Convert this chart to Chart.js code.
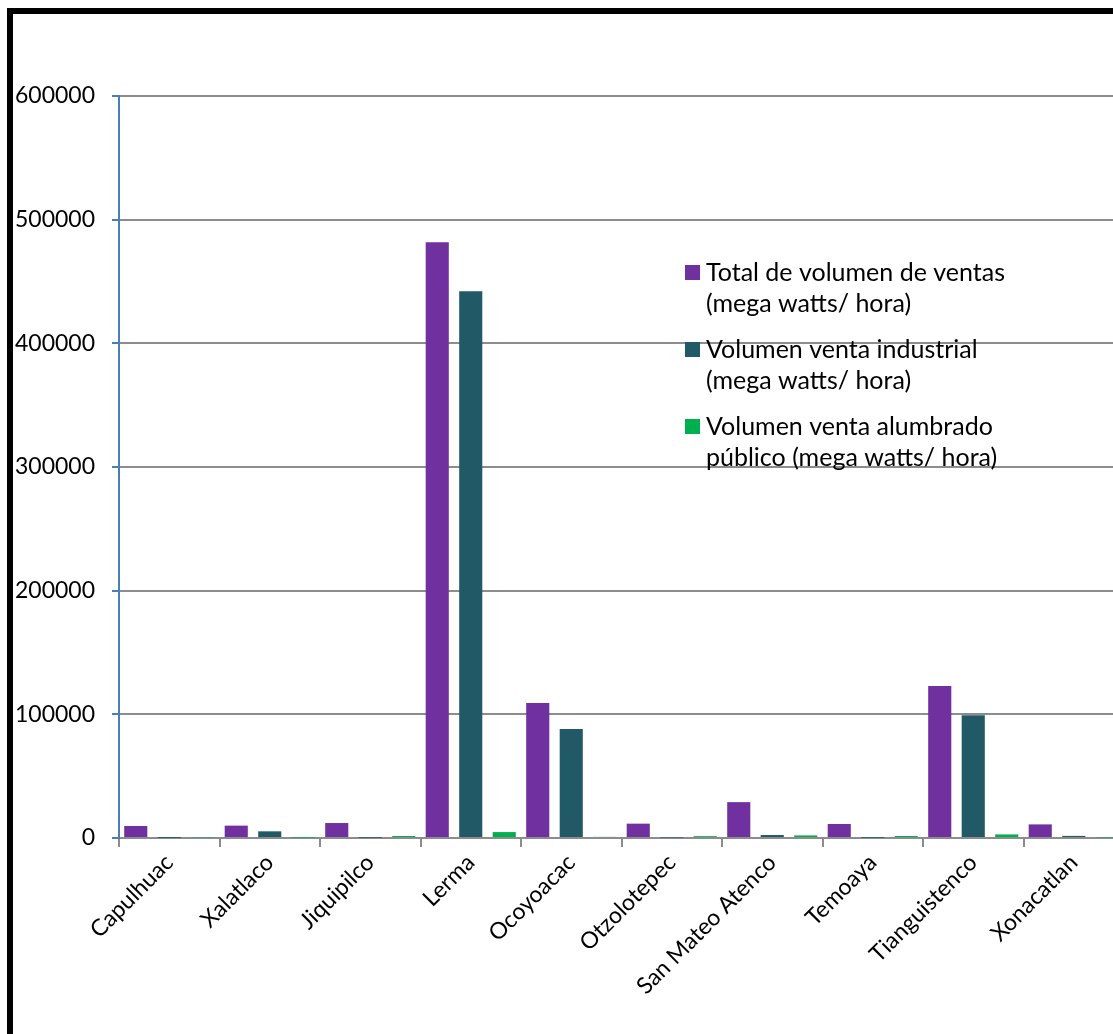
<!DOCTYPE html>
<html>
<head>
<meta charset="utf-8">
<script src="https://cdn.jsdelivr.net/npm/chart.js@4"></script>
<style>
  html, body { margin: 0; padding: 0; background: #fff; overflow: hidden; }
  #wrap { position: relative; width: 1113px; height: 1034px; overflow: hidden; }
  #frame {
    position: absolute; left: 7px; top: 8px; width: 1200px; height: 1100px;
    border-left: 6px solid #000; border-top: 6px solid #000; pointer-events: none;
  }
  canvas { position: absolute; left: 0; top: 0; }
</style>
</head>
<body>
<div id="wrap">
  <canvas id="ventasChart" width="1130" height="1034"></canvas>
  <div id="frame"></div>
</div>
<script>
const municipios = ["Capulhuac", "Xalatlaco", "Jiquipilco", "Lerma", "Ocoyoacac",
  "Otzolotepec", "San Mateo Atenco", "Temoaya", "Tianguistenco", "Xonacatlan"];

const totalVentas = [9700, 10000, 12100, 481800, 109100, 11600, 29000, 11300, 122900, 11000];
const ventaIndustrial = [100, 5400, 200, 442200, 88100, 400, 2400, 200, 99200, 1700];
const ventaAlumbrado = [600, 300, 1600, 4800, 900, 1500, 2100, 1600, 2900, 500];

const yTicks = [0, 100000, 200000, 300000, 400000, 500000, 600000];

const seriesLabels = [
  ["Total de volumen de ventas", "(mega watts/ hora)"],
  ["Volumen venta industrial", "(mega watts/ hora)"],
  ["Volumen venta alumbrado", "público (mega watts/ hora)"]
];
const seriesColors = ["#7030A0", "#215967", "#00B050"];

// legend drawn at the right side of the plot, labels wrap on two lines
const sideLegend = {
  id: "sideLegend",
  afterDraw(chart) {
    const ctx = chart.ctx;
    ctx.save();
    ctx.font = "25px Lato";
    ctx.textBaseline = "alphabetic";
    seriesLabels.forEach((lines, i) => {
      const y0 = 281 + i * 77;
      ctx.fillStyle = seriesColors[i];
      ctx.fillRect(685, y0 - 16, 15, 15);
      ctx.fillStyle = "#000";
      lines.forEach((line, j) => ctx.fillText(line, 706, y0 + j * 30.5));
    });
    ctx.restore();
  }
};

const ctx = document.getElementById("ventasChart").getContext("2d");

new Chart(ctx, {
  type: "bar",
  data: {
    labels: municipios,
    datasets: [
      { label: seriesLabels[0].join(" "), data: totalVentas, backgroundColor: seriesColors[0] },
      { label: seriesLabels[1].join(" "), data: ventaIndustrial, backgroundColor: seriesColors[1] },
      { label: seriesLabels[2].join(" "), data: ventaAlumbrado, backgroundColor: seriesColors[2] }
    ]
  },
  options: {
    responsive: false,
    animation: false,
    datasets: {
      bar: { categoryPercentage: 1, barPercentage: 0.69 }
    },
    layout: {
      padding: { left: 0, top: 96, right: 6, bottom: 0 }
    },
    plugins: {
      legend: { display: false },
      tooltip: { enabled: false }
    },
    scales: {
      x: {
        offset: true,
        afterFit(scale) { scale.height = 196; },
        grid: {
          offset: true,
          drawOnChartArea: false,
          color: "#8c8c8c",
          tickLength: 9,
          lineWidth: 2
        },
        border: { color: "#8c8c8c", width: 2 },
        ticks: {
          minRotation: 45,
          maxRotation: 45,
          autoSkip: false,
          padding: 2,
          color: "#000",
          font: { family: "Lato", size: 23 }
        }
      },
      y: {
        min: 0,
        max: 600000,
        afterFit(scale) { scale.width = 119; },
        afterBuildTicks(scale) { scale.ticks = yTicks.map(v => ({ value: v })); },
        grid: {
          color: "#8c8c8c",
          lineWidth: 2,
          tickColor: "#4A7EBB",
          tickLength: 7
        },
        border: { color: "#4A7EBB", width: 2 },
        ticks: {
          padding: 17,
          color: "#000",
          font: { family: "Lato", size: 23 },
          callback: v => String(v)
        }
      }
    }
  },
  plugins: [sideLegend]
});
</script>
</body>
</html>
